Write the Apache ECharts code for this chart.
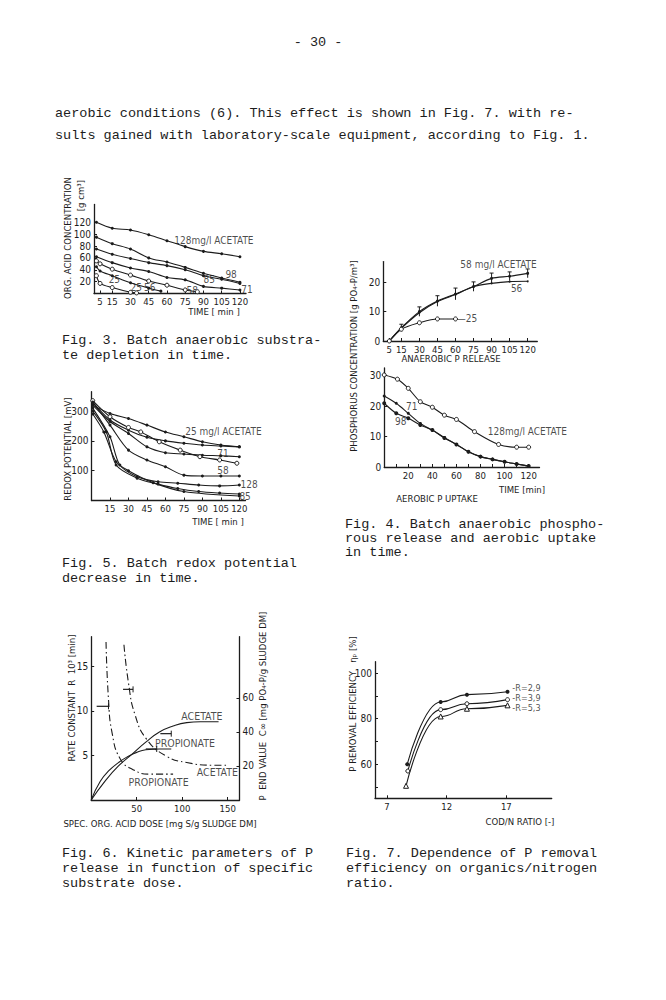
<!DOCTYPE html>
<html>
<head>
<meta charset="utf-8">
<script src="https://cdn.jsdelivr.net/npm/echarts@6/dist/echarts.min.js"></script>
<style>
html, body { margin: 0; background: #fff; }
#page { width: 666px; height: 1000px; }
</style>
</head>
<body>
<div id="page"></div>
<script>
// ---- Fig. 3  organic acid depletion (time in min, g/m3)
var f3Time = [2, 15, 30, 45, 60, 75, 90, 105, 120];
var f3_128 = [120, 110, 107, 99, 89, 79, 71, 67, 62];
var f3_98 = [95, 84, 75, 60, 53, 44, 34, 26, 19];
var f3_85 = [75, 66, 59, 52, 47, 40, 30, 24, 17];
var f3_71 = [62, 52, 43, 37, 27, 23, 12, 9, 6];
var f3_58 = [[2, 55], [5, 50], [15, 41], [30, 31], [45, 21], [60, 14], [75, 6], [85, 3]];
var f3_56 = [[2, 45], [5, 38], [15, 30], [30, 18], [45, 9], [55, 4]];
var f3_25 = [[2, 30], [5, 17], [15, 10], [30, 2], [35, 1]];
var f3Labels = [['128mg/l ACETATE', 66, 90], ['98', 108, 32], ['85', 90, 23], ['71', 121, 7],
                ['58', 76, 5], ['25', 12, 23], ['25', 30, 10], ['56', 41, 10]];
var f3XTicks = [5, 15, 30, 45, 60, 75, 90, 105, 120];
var f3YTicks = [20, 40, 60, 80, 100, 120];

// ---- Fig. 5  redox potential (mV)
var f5_25 = [[1, 320], [15, 292], [30, 275], [45, 253], [60, 230], [75, 214], [90, 197], [105, 186], [120, 180]];
var f5_b = [[1, 330], [15, 270], [30, 236], [45, 212], [60, 200], [75, 192], [90, 186], [105, 183], [120, 180]];
var f5_71 = [[1, 335], [15, 281], [30, 245], [40, 230], [55, 197], [72, 169], [88, 147], [104, 136], [118, 125]];
var f5_d = [[1, 320], [15, 265], [30, 225], [45, 180], [60, 160], [75, 156], [90, 152], [105, 150], [120, 147]];
var f5_58 = [[1, 330], [15, 253], [30, 169], [45, 136], [60, 113], [75, 85], [90, 82], [105, 82], [120, 82]];
var f5_128 = [[1, 310], [15, 214], [23, 119], [37, 80], [54, 63], [70, 58], [87, 52], [104, 49], [120, 52]];
var f5_85 = [[1, 300], [12, 230], [20, 119], [37, 75], [54, 55], [70, 40], [87, 30], [104, 25], [120, 22]];
var f5_h = [[1, 290], [10, 230], [20, 130], [30, 100], [50, 60], [75, 30], [120, 15]];
var f5Labels = [['25 mg/l ACETATE', 76, 230], ['71', 102, 158], ['58', 102, 102], ['128', 121, 52], ['85', 120, 12]];
var f5XTicks = [15, 30, 45, 60, 75, 90, 105, 120];
var f5YTicks = [100, 200, 300];

// ---- Fig. 4  anaerobic P release (upper) and aerobic uptake (lower)
var f4aTime = [5, 15, 30, 45, 60, 75, 90, 105, 120];
var f4a_58 = [0, 4.5, 10, 13.6, 16, 18.5, 21.3, 22, 23];
var f4a_58err = [0, 1.2, 1.6, 1.8, 2, 1.6, 1.8, 1.5, 1.5];
var f4a_56 = [0, 4.3, 9.6, 13.4, 15.8, 18.5, 19.6, 20.2, 20.3];
var f4a_25 = [[5, 0], [15, 4], [30, 6.2], [45, 7.5], [60, 7.5]];
var f4aLabels = [['58 mg/l ACETATE', 64, 26], ['56', 106, 18], ['\u201425', 61, 7.5]];
var f4aXTicks = [5, 15, 30, 45, 60, 75, 90, 105, 120];
var f4aYTicks = [0, 10, 20];

var f4b_128 = [[0, 30.2], [11, 28.8], [20, 25.8], [30, 21.4], [40, 19.6], [50, 17], [60, 15.6], [75, 11.6], [95, 7.4], [110, 6.5], [120, 6.5]];
var f4b_71 = [[0, 23.3], [10, 20.9], [20, 17.6], [30, 14.3], [40, 12.1], [50, 9.7], [60, 7.4], [70, 5], [80, 3.4], [90, 2.5], [100, 1.7], [110, 1], [120, 0.3]];
var f4b_98 = [[0, 20.9], [10, 17.6], [20, 16], [30, 13.8], [40, 12.1], [50, 9.5], [60, 7.4], [70, 5], [80, 3.4], [90, 2.5], [100, 1.7], [110, 1], [120, 0.3]];
var f4bLabels = [['71', 18, 20], ['98', 9, 15], ['128mg/l ACETATE', 86, 11.6]];
var f4bXLabels = [20, 40, 60, 80, 100, 120];
var f4bXTicks = [10, 20, 30, 40, 50, 60, 70, 80, 90, 100, 110, 120];
var f4bYTicks = [0, 10, 20, 30];

// ---- Fig. 6  kinetic parameters vs dose
var f6_acetateEnd = [[0, 0], [15, 11], [30, 20], [45, 27], [60, 34], [75, 40], [90, 43.5], [105, 45.5], [120, 46], [140, 46]];
var f6_propionateEnd = [[0, 0], [10, 11], [20, 17.5], [30, 22], [40, 25.5], [50, 28], [60, 29.5], [75, 30], [88, 30]];
var f6_acetateRate = [[36, 17.4], [41, 13.1], [48, 9.6], [61, 6.8], [83, 4.9], [105, 4.2], [134, 3.9], [149, 3.9]];
var f6_propionateRate = [[16.3, 17.7], [19, 11.3], [23, 7.5], [32, 4.6], [46, 3.4], [64, 2.9], [90, 2.9]];
var f6RateBars = [[6, 19, 10.5], [35, 46, 12.4]];
var f6EndBars = [[76, 88, 39], [60, 72, 30]];
var f6RateLabels = [['ACETATE', 116, 3.1], ['PROPIONATE', 41, 2.0]];
var f6EndLabels = [['ACETATE', 99, 49.5], ['PROPIONATE', 70, 33.7]];
var f6XTicks = [50, 100, 150];
var f6YTicks = [5, 10, 15];
var f6Y2Ticks = [20, 40, 60];

// ---- Fig. 7  P removal efficiency vs COD/N
var f7_r29 = [[8.7, 60], [11.5, 87.4], [13.7, 90.6], [17.1, 91.9]];
var f7_r39 = [[8.75, 57], [11.5, 84], [13.7, 86.6], [17.1, 88.4]];
var f7_r53 = [[8.6, 50.5], [11.5, 81], [13.7, 84.4], [17.1, 85.9]];
var f7Labels = [['-R=2,9', 17.5, 93.6], ['-R=3,9', 17.5, 89.1], ['-R=5,3', 17.5, 84.6]];
var f7XTicks = [7, 12, 17];
var f7YTicks = [50, 60, 70, 80, 90, 100];
var f7YLabels = [60, 80, 100];

var ink = '#1c1c1c';
var axFont = '"Liberation Sans Narrow", "DejaVu Sans Condensed", "DejaVu Sans", sans-serif';
var monoFont = '"Liberation Mono", "DejaVu Sans Mono", monospace';

var myChart = echarts.init(document.getElementById('page'), null, { renderer: 'svg' });

function xAx(grid, min, max, ticks, labels) {
    return {
        type: 'value', gridIndex: grid, min: min, max: max,
        axisLine: { show: true, onZero: false, lineStyle: { color: ink, width: 1.3 } },
        axisTick: { show: true, inside: true, length: 3, customValues: ticks, lineStyle: { color: ink } },
        axisLabel: { customValues: labels || ticks, color: ink, fontSize: 9.5, fontFamily: axFont, margin: 3 },
        splitLine: { show: false }
    };
}
function yAx(grid, min, max, ticks, labels, pos) {
    var a = xAx(grid, min, max, ticks, labels);
    a.position = pos || 'left';
    a.axisLabel.fontSize = 10;
    return a;
}
function curve(data, x, y, opt) {
    var s = {
        type: 'line', xAxisIndex: x, yAxisIndex: y, data: data,
        smooth: 0.3, symbol: 'circle', symbolSize: 3, showSymbol: true,
        lineStyle: { color: ink, width: 1.1 }, itemStyle: { color: ink },
        animation: false, silent: true, z: 3
    };
    if (opt) { for (var k in opt) s[k] = opt[k]; }
    return s;
}
function pairs(xs, ys) { return xs.map(function (t, i) { return [t, ys[i]]; }); }
function labels(list, x, y, size) {
    return {
        type: 'scatter', xAxisIndex: x, yAxisIndex: y, symbolSize: 0.1, silent: true, animation: false,
        data: list.map(function (l) { return { name: l[0], value: [l[1], l[2]] }; }),
        label: { show: true, position: 'right', distance: 0, formatter: '{b}', color: ink,
                 fontSize: size || 10, fontFamily: axFont }
    };
}
// vertical error bars [x, low, high]
function vBars(data, x, y) {
    return {
        type: 'custom', xAxisIndex: x, yAxisIndex: y, data: data, silent: true, animation: false,
        renderItem: function (params, api) {
            var lo = api.coord([api.value(0), api.value(1)]);
            var hi = api.coord([api.value(0), api.value(2)]);
            return { type: 'group', children: [
                { type: 'line', shape: { x1: lo[0], y1: lo[1], x2: hi[0], y2: hi[1] }, style: { stroke: ink, lineWidth: 1 } },
                { type: 'line', shape: { x1: hi[0] - 2, y1: hi[1], x2: hi[0] + 2, y2: hi[1] }, style: { stroke: ink, lineWidth: 1 } }
            ] };
        }
    };
}
// horizontal bars [x0, x1, y]
function hBars(data, x, y) {
    return {
        type: 'custom', xAxisIndex: x, yAxisIndex: y, data: data, silent: true, animation: false,
        renderItem: function (params, api) {
            var a = api.coord([api.value(0), api.value(2)]);
            var b = api.coord([api.value(1), api.value(2)]);
            return { type: 'group', children: [
                { type: 'line', shape: { x1: a[0], y1: a[1], x2: b[0], y2: b[1] }, style: { stroke: ink, lineWidth: 1.2 } },
                { type: 'line', shape: { x1: b[0], y1: b[1] - 3, x2: b[0], y2: b[1] + 3 }, style: { stroke: ink, lineWidth: 1 } }
            ] };
        }
    };
}
function txt(text, x, y, opt) {
    opt = opt || {};
    return {
        type: 'text', x: x, y: y, rotation: opt.rot ? Math.PI / 2 : 0, silent: true,
        style: {
            text: text, fill: ink, font: (opt.size || 13.5) + 'px ' + (opt.font || monoFont),
            textAlign: opt.align || 'left', textVerticalAlign: 'middle'
        }
    };
}
function axName(text, x, y, rot, align) {
    return txt(text, x, y, { rot: rot, size: 9.5, font: axFont, align: align || 'center' });
}

var openDot = { symbol: 'circle', symbolSize: 4, itemStyle: { color: '#fff', borderColor: ink, borderWidth: 1 } };

var option = {
    backgroundColor: '#fff',
    animation: false,
    grid: [
        { left: 94, top: 204.5, width: 152, height: 89 },        // 0 fig 3
        { left: 91.5, top: 391.7, width: 154, height: 108.8 },   // 1 fig 5
        { left: 383.3, top: 261.6, width: 154, height: 79.4 },   // 2 fig 4 upper
        { left: 384.2, top: 367.9, width: 155.3, height: 99.1 }, // 3 fig 4 lower
        { left: 91.2, top: 636.7, width: 148.3, height: 163.3 }, // 4 fig 6
        { left: 375, top: 661.7, width: 176.7, height: 136.6 }   // 5 fig 7
    ],
    xAxis: [
        xAx(0, 0, 125, f3XTicks),
        xAx(1, 0, 125, f5XTicks),
        xAx(2, 0, 128, f4aXTicks),
        xAx(3, 0, 129, f4bXTicks, f4bXLabels),
        xAx(4, 0, 163, f6XTicks),
        xAx(5, 6, 20.8, f7XTicks)
    ],
    yAxis: [
        yAx(0, 0, 150, f3YTicks),
        yAx(1, 0, 365, f5YTicks),
        yAx(2, 0, 27, f4aYTicks),
        yAx(3, 0, 32.5, f4bYTicks),
        yAx(4, 0, 18.3, f6YTicks),
        yAx(4, 0, 96, f6Y2Ticks, f6Y2Ticks, 'right'),
        yAx(5, 45, 105.1, f7YTicks, f7YLabels)
    ],
    series: [
        // fig 3
        curve(pairs(f3Time, f3_128), 0, 0),
        curve(pairs(f3Time, f3_98), 0, 0),
        curve(pairs(f3Time, f3_85), 0, 0),
        curve(pairs(f3Time, f3_71), 0, 0),
        curve(f3_58, 0, 0, openDot),
        curve(f3_56, 0, 0),
        curve(f3_25, 0, 0, openDot),
        labels(f3Labels, 0, 0),
        // fig 5
        curve(f5_25, 1, 1),
        curve(f5_b, 1, 1),
        curve(f5_71, 1, 1, openDot),
        curve(f5_d, 1, 1),
        curve(f5_58, 1, 1),
        curve(f5_128, 1, 1),
        curve(f5_85, 1, 1),
        curve(f5_h, 1, 1),
        labels(f5Labels, 1, 1),
        // fig 4
        curve(pairs(f4aTime, f4a_58), 2, 2),
        curve(pairs(f4aTime, f4a_56), 2, 2, { symbolSize: 2 }),
        curve(f4a_25, 2, 2, openDot),
        vBars(f4aTime.map(function (t, i) { return [t, f4a_58[i] - f4a_58err[i], f4a_58[i] + f4a_58err[i]]; }), 2, 2),
        labels(f4aLabels, 2, 2),
        curve(f4b_128, 3, 3, openDot),
        curve(f4b_71, 3, 3),
        curve(f4b_98, 3, 3, { symbolSize: 4 }),
        labels(f4bLabels, 3, 3),
        // fig 6
        curve(f6_acetateEnd, 4, 5, { showSymbol: false, smooth: 0.5 }),
        curve(f6_propionateEnd, 4, 5, { showSymbol: false, smooth: 0.5 }),
        curve(f6_acetateRate, 4, 4, { showSymbol: false, smooth: 0.5, lineStyle: { color: ink, width: 1.1, type: [7, 3, 1.5, 3] } }),
        curve(f6_propionateRate, 4, 4, { showSymbol: false, smooth: 0.5, lineStyle: { color: ink, width: 1.1, type: [7, 3, 1.5, 3] } }),
        hBars(f6RateBars, 4, 4),
        hBars(f6EndBars, 4, 5),
        labels(f6RateLabels, 4, 4, 10.5),
        labels(f6EndLabels, 4, 5, 10.5),
        // fig 7
        curve(f7_r29, 5, 6, { smooth: 0.5, smoothMonotone: 'x', symbolSize: 4 }),
        curve(f7_r39, 5, 6, { smooth: 0.5, smoothMonotone: 'x', symbol: 'circle', symbolSize: 4, itemStyle: { color: '#fff', borderColor: ink, borderWidth: 1 } }),
        curve(f7_r53, 5, 6, { smooth: 0.5, smoothMonotone: 'x', symbol: 'triangle', symbolSize: 5, itemStyle: { color: '#fff', borderColor: ink, borderWidth: 1 } }),
        labels(f7Labels, 5, 6, 9)
    ],
    graphic: [
        txt('- 30 -', 318, 42, { align: 'center' }),
        txt('aerobic conditions (6). This effect is shown in Fig. 7. with re-', 55, 113),
        txt('sults gained with laboratory-scale equipment, according to Fig. 1.', 55, 135),

        axName('ORG. ACID CONCENTRATION', 67, 238, true),
        axName('[g cm\u00b3]', 80, 180, true, 'right'),
        axName('TIME [ min ]', 214, 311),
        txt('Fig. 3. Batch anaerobic substra-', 62, 340),
        txt('te depletion in time.', 62, 355),

        axName('REDOX POTENTIAL [mV]', 67, 449, true),
        axName('TIME [ min ]', 218, 521),
        txt('Fig. 5. Batch redox potential', 62, 563),
        txt('decrease in time.', 62, 578),

        axName('PHOSPHORUS CONCENTRATION [g PO\u2084-P/m\u00b3]', 353, 356, true),
        axName('ANAEROBIC P RELEASE', 451, 358),
        axName('TIME [min]', 522, 489),
        axName('AEROBIC P UPTAKE', 437, 498),
        txt('Fig. 4. Batch anaerobic phospho-', 345, 524),
        txt('rous release and aerobic uptake', 345, 538),
        txt('in time.', 345, 552),

        axName('RATE CONSTANT  R  10\u00b3 [min]', 71, 698, true),
        axName('P  END VALUE  C\u221e [mg PO\u2084-P/g SLUDGE DM]', 262, 706, true),
        axName('SPEC. ORG. ACID DOSE [mg S/g SLUDGE DM]', 160, 823),
        txt('Fig. 6. Kinetic parameters of P', 62, 853),
        txt('release in function of specific', 62, 868),
        txt('substrate dose.', 62, 883),

        axName('P REMOVAL EFFICIENCY   \u03b7\u209a [%]', 352, 704, true),
        axName('COD/N RATIO [-]', 520, 821),
        txt('Fig. 7. Dependence of P removal', 346, 853),
        txt('efficiency on organics/nitrogen', 346, 868),
        txt('ratio.', 346, 883)
    ]
};

myChart.setOption(option);
</script>
</body>
</html>
